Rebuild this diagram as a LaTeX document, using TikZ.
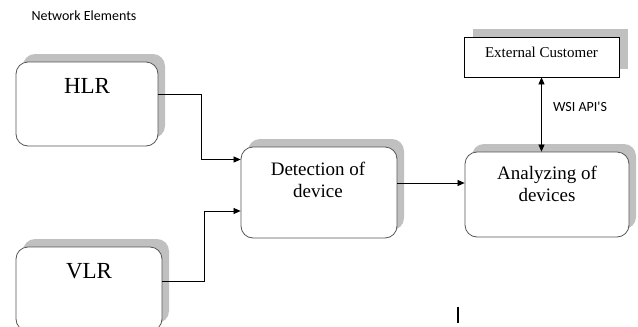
\documentclass[tikz,border=0pt]{standalone}
\usepackage{fontspec}
\setmainfont{Liberation Serif}
\newfontfamily\calfont{Carlito}
\usepackage{tikz}
\usetikzlibrary{arrows.meta, shadows, positioning}

\definecolor{linegray}{RGB}{85,85,85}
\definecolor{shadowgray}{RGB}{192,192,192}

\tikzset{
  blk/.style={draw=linegray, line width=0.8pt, rounded corners=12pt, fill=white,
    general shadow={fill=shadowgray, shadow xshift=7pt, shadow yshift=8pt}},
  extbox/.style={draw=black, line width=0.7pt, fill=white,
    general shadow={fill=shadowgray, shadow xshift=9pt, shadow yshift=8pt}},
  arr/.style={-{Triangle[length=7pt,width=6pt]}, line width=0.7pt},
  dblarr/.style={{Triangle[length=7pt,width=6pt]}-{Triangle[length=7pt,width=6pt]}, line width=0.7pt},
  bigtxt/.style={font=\fontsize{23}{26}\selectfont, inner sep=0pt},
  midtxt/.style={font=\fontsize{19}{22}\selectfont, align=center, inner sep=0pt},
  smalltxt/.style={font=\calfont\fontsize{14}{16}\selectfont, inner sep=0pt}
}

\begin{document}
\begin{tikzpicture}[x=1pt, y=-1pt]
    \clip (0,0) rectangle (638,327);
    \fill[white] (0,0) rectangle (638,327);

    % title
    \node[smalltxt] (title) at (84,16) {Network Elements};

    % boxes
    \node[blk, minimum width=142pt, minimum height=84pt] (hlr) at (87,104) {};
    \node[blk, minimum width=146pt, minimum height=84pt] (vlr) at (89,289) {};
    \node[blk, minimum width=156pt, minimum height=91pt] (det) at (319,192.5) {};
    \node[blk, minimum width=164pt, minimum height=85pt] (ana) at (547,194.5) {};
    \node[extbox, minimum width=155pt, minimum height=40pt] (ext) at (541.5,57) {};

    % texts
    \node[bigtxt] (hlrtxt) at (87,86) {HLR};
    \node[bigtxt] (vlrtxt) at (89,271) {VLR};
    \node[midtxt] (dettxt) at (318,180) {Detection of\\device};
    \node[midtxt] (anatxt) at (547,184) {Analyzing of\\devices};
    \node[font=\fontsize{15}{17}\selectfont, inner sep=0pt] (exttxt) at (541.5,52) {External Customer};
    \node[smalltxt] (wsi) at (580,106.5) {WSI API'S};

    % connectors
    \draw[arr] ([yshift=10pt]hlr.east) -- ++(43,0) |- ([yshift=33pt]det.west);
    \draw[arr] ([yshift=8pt]vlr.east) -- ++(42,0) |- ([yshift=-18.5pt]det.west);
    \draw[arr] ([yshift=9.5pt]det.east) -- ([yshift=9.5pt]det.east -| ana.west);
    \draw[dblarr] (ext.south) -- (ext.south |- ana.north);

    % cursor mark
    \draw[line width=1.5pt] (458,307) -- (458,323);
\end{tikzpicture}
\end{document}
